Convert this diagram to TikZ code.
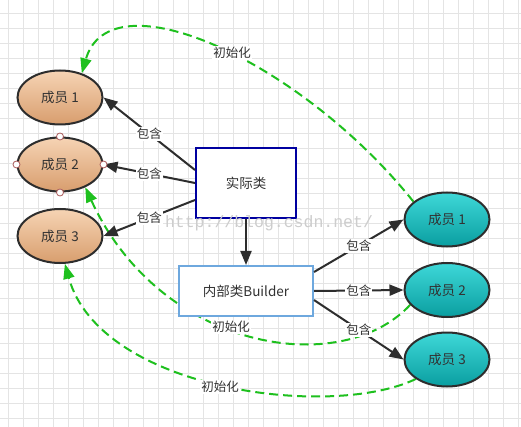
\documentclass[tikz,border=0pt]{standalone}
\usepackage{fontspec}
\setmainfont{Noto Sans CJK SC}
\newfontfamily\wmfont{Liberation Mono}
\usetikzlibrary{shapes.geometric,arrows.meta,calc,backgrounds}
\definecolor{gridc}{RGB}{228,228,228}
\definecolor{orgtop}{RGB}{246,212,180}
\definecolor{orgbot}{RGB}{216,158,110}
\definecolor{tealtop}{RGB}{62,216,216}
\definecolor{tealbot}{RGB}{10,158,160}
\definecolor{edgec}{RGB}{45,45,45}
\definecolor{greenc}{RGB}{30,192,30}
\definecolor{boxblue}{RGB}{0,0,160}
\definecolor{lightblue}{RGB}{110,168,222}
\definecolor{txt}{RGB}{50,50,50}
\definecolor{handlec}{RGB}{170,90,90}
\definecolor{wmc}{RGB}{205,205,205}
\begin{document}
\begin{tikzpicture}[x=1pt,y=-1pt,
 member/.style={ellipse, draw=edgec, line width=2pt, minimum width=85pt, minimum height=54pt, inner sep=0pt, font=\fontsize{13.5}{15}\selectfont, text=txt},
 leftm/.style={member, top color=orgtop, bottom color=orgbot},
 rightm/.style={member, top color=tealtop, bottom color=tealbot},
 classbox/.style={rectangle, fill=white, line width=2pt, inner sep=0pt, font=\fontsize{13.5}{15}\selectfont, text=txt},
 contains/.style={draw=edgec, line width=2pt, -{Triangle[length=14pt,width=11pt]}},
 initarrow/.style={draw=greenc, line width=2pt, dash pattern=on 9pt off 5pt, -{Triangle[length=15pt,width=11pt]}},
 lab/.style={fill=white, inner sep=1pt, font=\fontsize{12.5}{14}\selectfont, text=txt},
 handle/.style={circle, draw=handlec, fill=white, line width=0.8pt, minimum size=7pt, inner sep=0pt}
]
\useasboundingbox (0,0) rectangle (521,427);

% members
\node[leftm] (l1) at (60,97.5) {成员 1};
\node[leftm] (l2) at (60,164.5) {成员 2};
\node[leftm] (l3) at (60,236) {成员 3};
\node[rightm] (r1) at (447,219.5) {成员 1};
\node[rightm] (r2) at (447,290) {成员 2};
\node[rightm] (r3) at (447,359.5) {成员 3};

% classes
\node[classbox, draw=boxblue, minimum width=100pt, minimum height=70pt] (shiji) at (246,183) {实际类};
\node[classbox, draw=lightblue, minimum width=134pt, minimum height=50pt] (builder) at (246,291) {内部类Builder};

% background: grid and init curves
\begin{scope}[on background layer]
 \fill[white] (0,0) rectangle (521,427);
 \foreach \x in {8,23,...,518} \draw[gridc, line width=0.6pt] (\x,0) -- (\x,427);
 \foreach \y in {13,28,...,425} \draw[gridc, line width=0.6pt] (0,\y) -- (521,\y);
 \draw[initarrow] (r1.152) .. controls (300,60) and (110,-25) .. (l1.48);
 \draw[initarrow] (r2.202) .. controls (340,380) and (160,350) .. (l2.318);
 \draw[initarrow] (r3.212) .. controls (330,420) and (100,390) .. (l3.280);
\end{scope}

\node[lab] (i1) at (232,53) {初始化};
\node[lab] (i2) at (231,327) {初始化};
\node[lab] (i3) at (220,387) {初始化};

% contains arrows
\draw[contains] ($(shiji.west)+(0,-13)$) -- node[lab] (c1) {包含} (l1.east);
\draw[contains] (shiji.west) -- node[lab] (c2) {包含} (l2.east);
\draw[contains] ($(shiji.west)+(0,17)$) -- node[lab] (c3) {包含} (l3.east);
\draw[contains] ($(builder.east)+(0,-19)$) -- node[lab] (c4) {包含} (r1.west);
\draw[contains] (builder.east) -- node[lab] (c5) {包含} (r2.west);
\draw[contains] ($(builder.east)+(0,9)$) -- node[lab] (c6) {包含} (r3.west);
\draw[contains] (shiji.south) -- (builder.north);

% selection handles
\foreach \a in {north,south,east,west} \node[handle] (h\a) at (l2.\a) {};

% watermark
\node[font=\wmfont\fontsize{16.5}{18}\selectfont, text=wmc, anchor=base, inner sep=0pt] (wm) at (269,228) {http://blog.csdn.net/};
\end{tikzpicture}
\end{document}
